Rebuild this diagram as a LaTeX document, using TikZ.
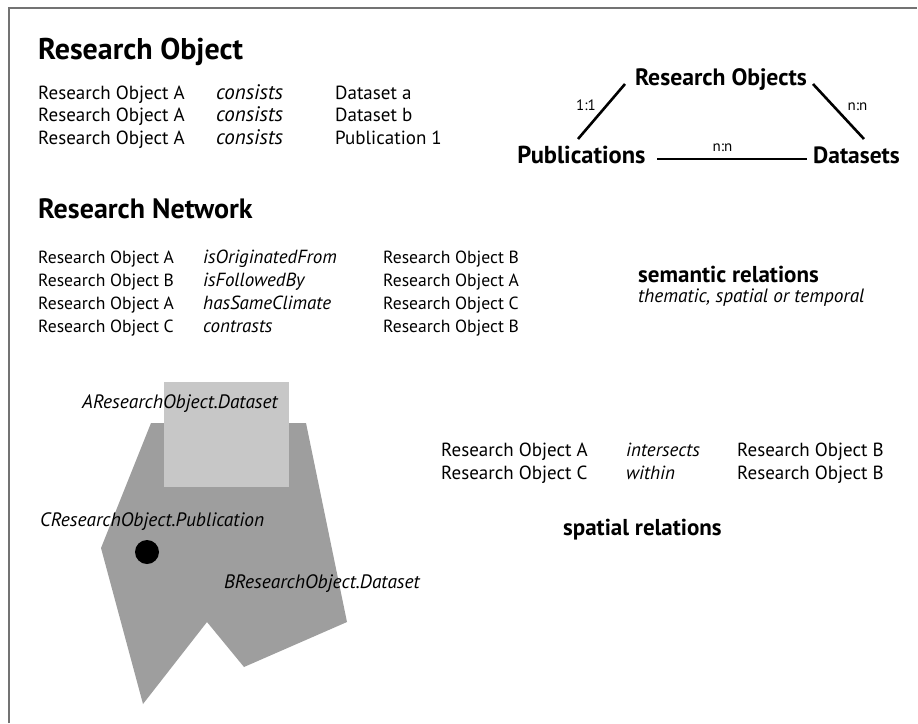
\documentclass[tikz,border=0pt]{standalone}
\usepackage{fontspec}
\setmainfont{PT Sans}
\begin{document}
\begin{tikzpicture}[x=1pt,y=-1pt,
  txt/.style={anchor=base west,inner sep=0pt,font=\fontsize{19}{22}\selectfont},
  itxt/.style={anchor=base west,inner sep=0pt,font=\fontsize{21}{22}\selectfont\itshape},
  sitxt/.style={anchor=base west,inner sep=0pt,font=\fontsize{19}{22}\selectfont\itshape},
  ntxt/.style={anchor=base west,inner sep=0pt,font=\fontsize{17.6}{22}\selectfont},
  nitxt/.style={anchor=base west,inner sep=0pt,font=\fontsize{19}{22}\selectfont\itshape},
  lbl/.style={anchor=base west,inner sep=0pt,font=\fontsize{19.4}{22}\selectfont\itshape},
  head/.style={anchor=base west,inner sep=0pt,font=\fontsize{#1}{30}\selectfont\bfseries},
  bold/.style={inner sep=0pt,anchor=base,font=\fontsize{#1}{26}\selectfont\bfseries},
  small/.style={inner sep=0pt,anchor=base,font=\fontsize{15}{16}\selectfont},
  rel/.style={line width=2.6pt},
  frame/.style={draw=black!55,line width=1.2pt}]
\useasboundingbox (0,0) rectangle (918,723);
\draw[frame] (9,723) -- (9,8) -- (917,8);

% Research Object
\node[head=30] (h1) at (38,59) {Research Object};
\foreach \i/\y/\c in {1/99/Dataset a,2/121.5/Dataset b,3/144/Publication 1}{
  \node[txt] (ro\i a) at (38,\y) {Research Object A};
  \node[itxt] (ro\i b) at (216,\y) {consists};
  \node[txt] (ro\i c) at (335,\y) {\c};
}

% Diagram
\node[bold=23.7] (ros) at (721,85) {Research Objects};
\node[bold=24.5] (pub) at (581.5,163) {Publications};
\node[bold=23.5] (dat) at (856.5,163) {Datasets};
\coordinate (l1a) at (578,139); \coordinate (l1b) at (625,84);
\coordinate (l2a) at (813,84);  \coordinate (l2b) at (864,139);
\coordinate (l3a) at (657,159); \coordinate (l3b) at (807,159);
\draw[rel] (l1a) -- (l1b);
\draw[rel] (l2a) -- (l2b);
\draw[rel] (l3a) -- (l3b);
\node[small] (r11) at (586,110) {1:1};
\node[small] (rnn1) at (857.5,110) {n:n};
\node[small] (rnn2) at (722.5,151) {n:n};

% Research Network
\node[head=28] (h2) at (38,218) {Research Network};
\foreach \i/\y/\a/\r/\b in {1/263.5/A/isOriginatedFrom/B,2/286.5/B/isFollowedBy/A,3/309.5/A/hasSameClimate/C,4/332.5/C/contrasts/B}{
  \node[ntxt] (rn\i a) at (38,\y) {Research Object \a};
  \node[nitxt] (rn\i b) at (203,\y) {\r};
  \node[ntxt] (rn\i c) at (383,\y) {Research Object \b};
}
\node[bold=23,anchor=base west] (sem) at (638,282) {semantic relations};
\node[sitxt,font=\fontsize{19.3}{22}\selectfont\itshape] (semt) at (638,302) {thematic, spatial or temporal};

% spatial picture
\fill[black!38] (151,423) -- (306,423) -- (347,622) -- (244,667) -- (207,622) -- (143,704) -- (101,548) -- cycle;
\fill[black!22] (164,382) rectangle (289,487);
\fill[black] (147,552) circle (12);
\node[lbl] (la) at (82,408) {AResearchObject.Dataset};
\node[lbl] (lc) at (40,526) {CResearchObject.Publication};
\node[lbl] (lb) at (224,588) {BResearchObject.Dataset};

% spatial relations
\node[txt] (sp1a) at (441,456) {Research Object A};
\node[sitxt] (sp1b) at (626,456) {intersects};
\node[txt] (sp1c) at (737,456) {Research Object B};
\node[txt] (sp2a) at (441,479) {Research Object C};
\node[sitxt] (sp2b) at (626,479) {within};
\node[txt] (sp2c) at (737,479) {Research Object B};
\node[bold=23,anchor=base west] (spr) at (563,535) {spatial relations};
\end{tikzpicture}
\end{document}
